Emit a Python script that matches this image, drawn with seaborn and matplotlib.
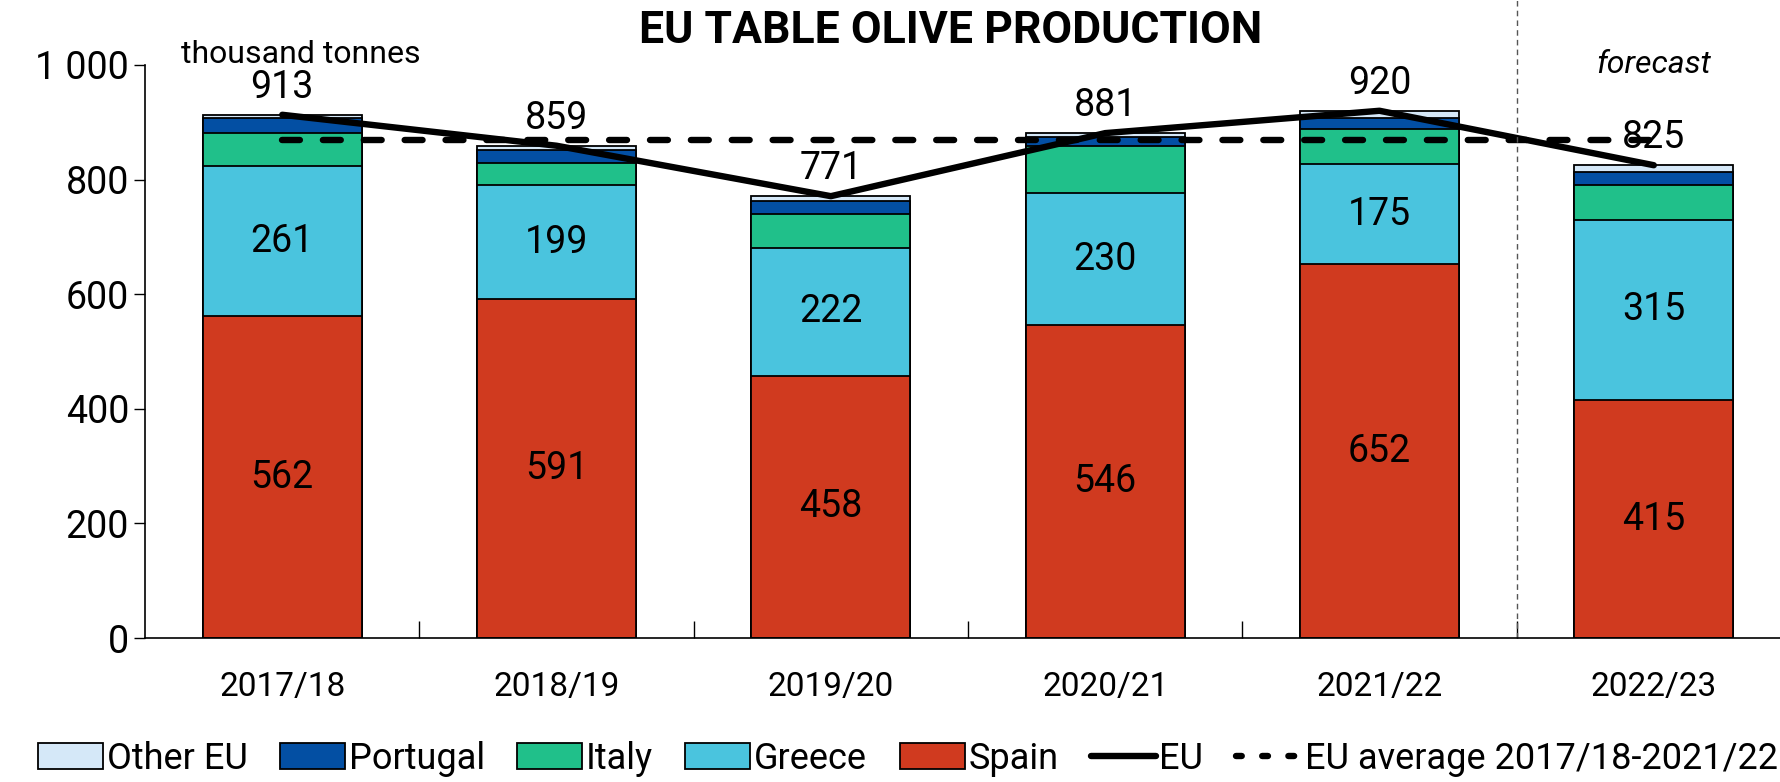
import numpy as np
import pandas as pd
import matplotlib
matplotlib.use("Agg")
import matplotlib.pyplot as plt
import seaborn as sns
from matplotlib import font_manager
from matplotlib.patches import Patch
from matplotlib.lines import Line2D
from matplotlib.ticker import FixedLocator, FuncFormatter

seasons = ["2017/18", "2018/19", "2019/20", "2020/21", "2021/22", "2022/23"]
spain = [562, 591, 458, 546, 652, 415]
greece = [261, 199, 222, 230, 175, 315]
italy = [58, 39, 60, 82, 61, 61]
portugal = [26, 23, 23, 17, 20, 22]
other_eu = [6, 7, 8, 6, 12, 12]
eu_total = [913, 859, 771, 881, 920, 825]

colors = {
    "Spain": "#D03A1F",
    "Greece": "#4AC4DE",
    "Italy": "#20C08A",
    "Portugal": "#034FA3",
    "Other EU": "#D5E8F8",
}

sns.set_style("white")
# prefer a narrow face if one is installed
installed = {f.name for f in font_manager.fontManager.ttflist}
narrow = [n for n in ["Liberation Sans Narrow", "Roboto", "DejaVu Sans"] if n in installed]
plt.rcParams["font.family"] = narrow + ["DejaVu Sans"]
for k in ["text.color", "axes.labelcolor", "xtick.color", "ytick.color"]:
    plt.rcParams[k] = "black"

df = pd.DataFrame({"season": seasons, "Spain": spain, "Greece": greece,
                   "Italy": italy, "Portugal": portugal, "Other EU": other_eu})

fig = plt.figure(figsize=(17.8, 7.82), dpi=100)
ax = fig.add_axes([0.0815, 0.184, 0.9185, 0.733])

# stacked bars: draw cumulative totals from top layer down
layers = ["Spain", "Greece", "Italy", "Portugal", "Other EU"]
cum = df[layers].cumsum(axis=1)
for name in reversed(layers):
    sns.barplot(x=df["season"], y=cum[name], order=seasons, color=colors[name],
                width=0.58, edgecolor="black", linewidth=1.3, saturation=1, ax=ax)

xpos = np.arange(len(seasons))
sns.lineplot(x=xpos, y=eu_total, color="black", linewidth=4.6, ax=ax)
avg = np.mean(eu_total[:5])
ax.plot([xpos[0], xpos[-1]], [avg, avg], color="black", linewidth=4.6,
        dashes=(2.8, 3.6), dash_capstyle="round")

# value labels
for i in range(len(seasons)):
    ax.text(i, spain[i] / 2, str(spain[i]), ha="center", va="center", fontsize=27)
    ax.text(i, spain[i] + greece[i] / 2, str(greece[i]), ha="center", va="center", fontsize=27)
    ax.text(i, eu_total[i] + 48, str(eu_total[i]), ha="center", va="center", fontsize=27)

ax.axvline(4.5, ymin=0, ymax=1.115, color="#555555", linewidth=1, linestyle=(0, (4, 3)),
           clip_on=False)

ax.set_xlim(-0.5, 5.46)
ax.set_ylim(0, 1000)
ax.set_xlabel("")
ax.set_ylabel("")
ax.yaxis.set_major_locator(FixedLocator(range(0, 1001, 200)))
ax.yaxis.set_major_formatter(FuncFormatter(lambda v, p: f"{int(v):,}".replace(",", " ")))
ax.xaxis.set_minor_locator(FixedLocator(np.arange(0.5, 5, 1)))
ax.tick_params(axis="y", labelsize=27, length=8, width=1, direction="out", left=True)
ax.tick_params(axis="x", which="major", labelsize=24, length=0, pad=24)
ax.tick_params(axis="x", which="minor", length=12, width=1, direction="in", bottom=True)
for s in ["top", "right"]:
    ax.spines[s].set_visible(False)
for s in ["left", "bottom"]:
    ax.spines[s].set_color("black")
    ax.spines[s].set_linewidth(1.2)

fig.text(0.534, 0.96, "EU TABLE OLIVE PRODUCTION", ha="center", va="center",
         fontsize=32, fontweight="bold")
ax.text(0.022, 1.018, "thousand tonnes", transform=ax.transAxes, ha="left", va="center",
        fontsize=23)
ax.text(5, 1000, "forecast", ha="center", va="center", fontsize=23, style="italic")

handles = [Patch(facecolor=colors[n], edgecolor="black", linewidth=1.3, label=n)
           for n in ["Other EU", "Portugal", "Italy", "Greece", "Spain"]]
handles.append(Line2D([], [], color="black", linewidth=4.6, label="EU"))
handles.append(Line2D([], [], color="black", linewidth=4.6, dashes=(0.9, 3.2),
                      dash_capstyle="round", label="EU average 2017/18-2021/22"))
fig.legend(handles=handles, loc="center", bbox_to_anchor=(0.51, 0.03), ncol=7,
           frameon=False, fontsize=26, handlelength=1.8, handletextpad=0.1,
           columnspacing=0.9, handleheight=0.7)

fig.savefig("out.png", dpi=100)
